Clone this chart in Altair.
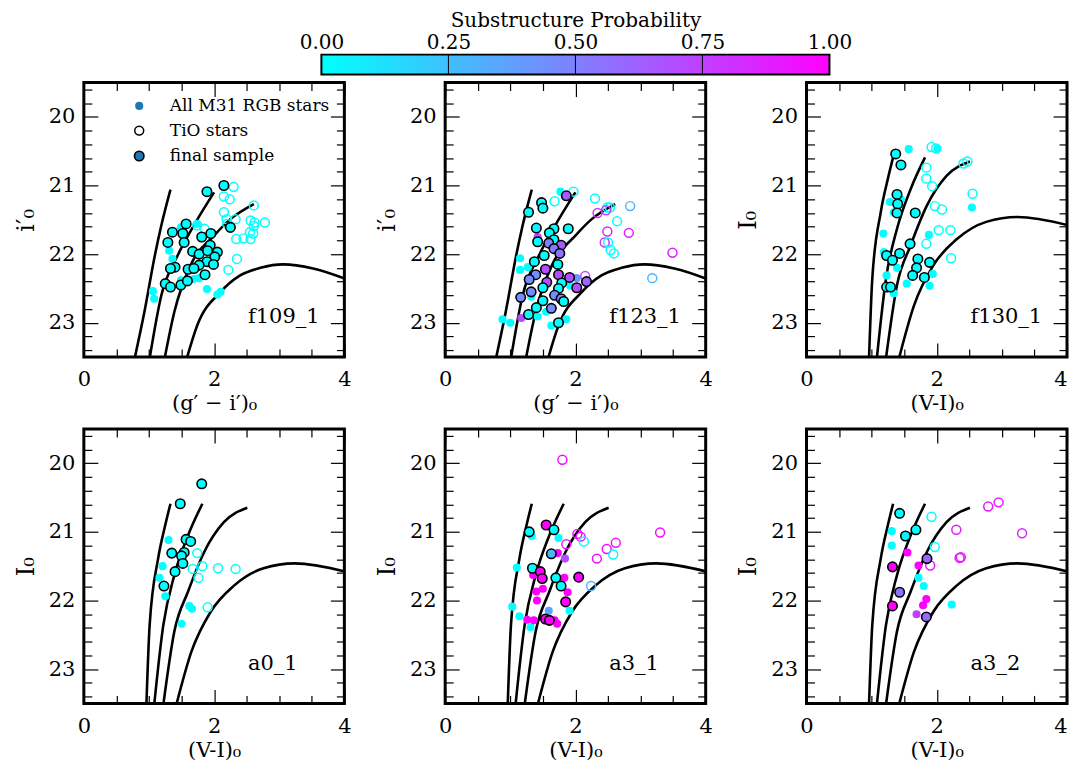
import altair as alt
import pandas as pd

FONT = "DejaVu Serif"

# ---------------- colour bar ----------------
CB_TICKS = [0.0, 0.25, 0.5, 0.75, 1.0]
CB_TITLE = "Substructure Probability"

# ---------------- isochrones ----------------
GI_ISO_X = [
    [0.78, 0.93, 1.09, 1.19, 1.33],
    [1.01, 1.19, 1.44, 1.69, 2.00],
    [1.24, 1.39, 1.64, 2.00, 2.25, 2.61],
    [1.58, 1.74, 2.10, 2.40, 2.71, 3.06, 3.52, 4.07],
]
GI_ISO_Y = [
    [23.52, 22.84, 22.02, 21.58, 21.06],
    [23.52, 22.60, 22.02, 21.58, 21.10],
    [23.52, 22.84, 22.16, 21.73, 21.49, 21.27],
    [23.52, 23.04, 22.55, 22.31, 22.20, 22.15, 22.21, 22.38],
]
VI_ISO_X = [
    [0.96, 1.01, 1.14, 1.25, 1.33],
    [1.08, 1.22, 1.39, 1.60, 1.82],
    [1.22, 1.39, 1.60, 1.85, 2.15, 2.51],
    [1.42, 1.65, 1.95, 2.31, 2.76, 3.24, 4.02],
]
VI_ISO_Y = [
    [23.52, 22.36, 21.39, 20.90, 20.59],
    [23.52, 22.36, 21.63, 21.05, 20.59],
    [23.52, 22.45, 21.87, 21.29, 20.86, 20.65],
    [23.52, 22.75, 22.16, 21.78, 21.53, 21.46, 21.58],
]

# ---------------- f109_1 ----------------
P1_RGB_X = [1.31, 1.36, 1.49, 1.74, 1.06, 1.08, 1.89, 2.05, 2.10, 1.77, 1.49, 1.69]
P1_RGB_Y = [21.95, 22.07, 21.61, 21.56, 22.54, 22.65, 22.51, 22.59, 22.55, 22.35, 22.38, 22.36]
P1_RGB_P = [0, 0, 0, 0, 0, 0, 0, 0, 0, 0, 0, 0]
P1_TIO_X = [2.30, 2.15, 2.24, 2.15, 2.19, 2.33, 2.20, 2.61, 2.56, 2.62, 2.61, 2.78, 2.55, 2.60,
            2.45, 2.34, 2.56, 2.35, 2.22, 1.85, 1.74]
P1_TIO_Y = [21.02, 21.16, 21.20, 21.39, 21.49, 21.49, 21.56, 21.29, 21.51, 21.54, 21.59, 21.54,
            21.68, 21.70, 21.77, 21.78, 21.78, 22.07, 22.23, 21.63, 21.58]
P1_TIO_P = [0] * len(P1_TIO_X)
P1_FIN_X = [1.89, 2.15, 2.25, 1.57, 1.36, 1.52, 1.29, 1.54, 1.81, 1.95, 1.94, 1.67, 1.77, 1.90,
            2.05, 2.01, 1.89, 1.77, 1.40, 1.33, 1.60, 1.69, 1.99, 1.86, 1.25, 1.33, 1.49, 1.59]
P1_FIN_Y = [21.09, 21.00, 21.61, 21.56, 21.68, 21.70, 21.83, 21.83, 21.75, 21.70, 21.87, 21.96,
            22.00, 21.95, 21.97, 22.04, 22.11, 22.16, 22.19, 22.21, 22.22, 22.21, 22.15, 22.30,
            22.43, 22.48, 22.45, 22.39]
P1_FIN_P = [0] * len(P1_FIN_X)

# ---------------- f123_1 ----------------
P2_RGB_X = [1.77, 1.15, 1.15, 0.88, 1.00, 1.17, 1.42, 1.86, 1.63, 1.42, 1.92, 2.02, 1.27, 1.32, 1.55]
P2_RGB_Y = [21.09, 22.06, 22.23, 22.95, 23.00, 22.93, 22.91, 22.95, 23.04, 21.75, 22.46, 22.35,
            22.19, 22.62, 22.84]
P2_RGB_P = [0, 0, 0, 0, 0, 0.7, 0, 0, 0, 0.7, 0, 0.4, 0, 0, 0]
P2_TIO_X = [1.97, 1.68, 2.30, 2.49, 2.53, 2.84, 2.34, 2.47, 2.64, 2.49, 2.82, 2.45, 2.50, 2.54,
            2.59, 3.49, 3.18, 2.15]
P2_TIO_Y = [21.09, 21.23, 21.19, 21.32, 21.32, 21.30, 21.40, 21.36, 21.52, 21.67, 21.69, 21.83,
            21.83, 21.94, 21.99, 21.98, 22.35, 22.32]
P2_TIO_P = [0, 0, 0, 0, 0, 0.3, 0.8, 0.75, 0, 0.85, 0.85, 0.8, 0, 0, 0, 0.85, 0.3, 0.75]
P2_FIN_X = [1.86, 1.28, 1.48, 1.50, 1.40, 1.67, 1.89, 1.60, 1.67, 1.42,
            1.59, 1.78, 1.67, 1.76, 1.52, 1.37, 1.73, 1.54, 1.39, 1.74,
            1.29, 1.56, 1.79, 1.91, 2.02, 2.17, 1.74, 1.50, 1.32, 1.16,
            1.68, 1.78, 1.50, 1.63, 1.40, 1.28, 1.74, 1.82]
P2_FIN_Y = [21.15, 21.39, 21.25, 21.33, 21.62, 21.63, 21.63, 21.69, 21.79, 21.82,
            21.84, 21.87, 21.92, 21.99, 22.02, 22.11, 22.15, 22.22, 22.30, 22.30,
            22.37, 22.41, 22.42, 22.34, 22.49, 22.40, 22.50, 22.49, 22.55, 22.63,
            22.60, 22.65, 22.68, 22.79, 22.78, 22.88, 23.00, 22.69]
P2_FIN_P = [0.65, 0, 0, 0, 0.05, 0, 0, 0, 0, 0,
            0.5, 0.65, 0.5, 0.55, 0, 0, 0, 0.7, 0.45, 0.7,
            0.45, 0.7, 0, 0.7, 0.7, 0.6, 0, 0, 0.45, 0.45,
            0.45, 0.5, 0, 0.45, 0, 0, 0, 0]

# ---------------- f130_1 ----------------
P3_RGB_X = [1.57, 2.01, 1.28, 1.34, 1.45, 1.18, 1.88, 2.54, 1.19, 1.39, 1.23, 1.94, 1.54, 1.89, 1.34]
P3_RGB_Y = [20.47, 20.46, 21.24, 21.39, 21.20, 21.70, 21.72, 21.32, 21.97, 22.20, 22.31, 22.29,
            22.43, 22.46, 22.57]
P3_RGB_P = [0] * len(P3_RGB_X)
P3_TIO_X = [1.92, 1.99, 2.41, 2.47, 1.84, 1.84, 1.93, 2.55, 1.97, 2.08, 2.03, 2.21, 1.84, 2.22]
P3_TIO_Y = [20.44, 20.46, 20.68, 20.65, 20.74, 20.90, 21.01, 21.12, 21.30, 21.35, 21.65, 21.65,
            21.85, 22.06]
P3_TIO_P = [0] * len(P3_TIO_X)
P3_FIN_X = [1.37, 1.45, 1.39, 1.40, 1.39, 1.67, 1.59, 1.23, 1.43, 1.32, 1.71, 1.89, 1.69, 1.63,
            1.81, 1.23, 1.29]
P3_FIN_Y = [20.54, 20.70, 21.13, 21.27, 21.40, 21.40, 21.85, 22.02, 21.99, 22.09, 22.07, 22.12,
            22.20, 22.31, 22.34, 22.48, 22.48]
P3_FIN_P = [0] * len(P3_FIN_X)

# ---------------- a0_1 ----------------
P4_RGB_X = [1.30, 1.21, 1.16, 1.25, 1.62, 1.66, 1.50]
P4_RGB_Y = [21.12, 21.50, 21.67, 21.94, 22.08, 22.12, 22.34]
P4_RGB_P = [0] * len(P4_RGB_X)
P4_TIO_X = [1.74, 1.82, 1.67, 2.06, 2.33, 1.76, 1.90]
P4_TIO_Y = [21.31, 21.50, 21.54, 21.53, 21.54, 21.67, 22.10]
P4_TIO_P = [0] * len(P4_TIO_X)
P4_FIN_X = [1.81, 1.48, 1.57, 1.64, 1.35, 1.54, 1.50, 1.52, 1.40, 1.23]
P4_FIN_Y = [20.30, 20.59, 21.11, 21.14, 21.31, 21.30, 21.35, 21.46, 21.58, 21.79]
P4_FIN_P = [0] * len(P4_FIN_X)

# ---------------- a3_1 ----------------
P5_RGB_X = [1.33, 1.74, 1.10, 1.84, 1.73, 1.35, 1.83, 1.50, 1.40, 1.88, 1.41, 1.03, 1.14, 1.31,
            1.26, 1.36, 1.59, 1.91, 1.72, 1.68]
P5_RGB_Y = [21.06, 21.09, 21.52, 21.39, 21.31, 21.63, 21.67, 21.83, 21.87, 21.88, 22.00, 22.09,
            22.23, 22.39, 22.28, 22.29, 22.15, 22.15, 22.34, 22.29]
P5_RGB_P = [0, 0, 0, 0.7, 1, 1, 1, 1, 1, 1, 1, 0, 0, 0, 1, 1, 0.35, 0, 1, 1]
P5_TIO_X = [1.80, 2.03, 2.08, 2.13, 1.86, 2.33, 2.48, 2.62, 2.58, 2.24, 3.30]
P5_TIO_Y = [19.95, 21.03, 21.07, 21.14, 21.18, 21.39, 21.25, 21.16, 21.33, 21.79, 21.01]
P5_TIO_P = [0.95, 0.95, 0.95, 0, 0.9, 0.95, 0.95, 0.95, 0, 0.3, 0.95]
P5_FIN_X = [1.55, 1.67, 1.29, 1.63, 1.34, 1.46, 1.49, 1.70, 1.78, 2.05, 1.85, 1.54, 1.60]
P5_FIN_Y = [20.90, 20.97, 21.00, 21.32, 21.53, 21.58, 21.68, 21.67, 21.79, 21.66, 22.02, 22.27, 22.29]
P5_FIN_P = [1, 0, 0, 0.3, 0, 1, 1, 0, 0, 1, 1, 1, 1]

# ---------------- a3_2 ----------------
P6_RGB_X = [1.31, 1.31, 1.55, 1.72, 1.72, 1.80, 1.84, 1.79, 1.69, 2.23]
P6_RGB_Y = [20.99, 21.20, 21.30, 21.49, 21.67, 21.79, 21.98, 22.07, 22.20, 22.06]
P6_RGB_P = [0, 0, 1, 1, 0, 0, 1, 1, 0.75, 0]
P6_TIO_X = [1.92, 1.97, 2.30, 1.90, 2.35, 2.37, 2.79, 2.95, 3.31]
P6_TIO_Y = [20.78, 21.22, 20.97, 21.49, 21.38, 21.37, 20.63, 20.57, 21.02]
P6_TIO_P = [0, 0, 0.9, 0.9, 0.9, 0.9, 0.9, 0.9, 0.85]
P6_FIN_X = [1.43, 1.68, 1.52, 1.85, 1.32, 1.43, 1.32, 1.84]
P6_FIN_Y = [20.73, 20.97, 21.06, 21.39, 21.51, 21.88, 22.08, 22.24]
P6_FIN_P = [0, 0, 0.05, 0.6, 1, 0.55, 1, 0.6]

PANEL_NAMES = ["f109_1", "f123_1", "f130_1", "a0_1", "a3_1", "a3_2"]
X_TITLE_GI = "(g\u2032 \u2212 i\u2032)\u2080"
X_TITLE_VI = "(V-I)\u2080"
Y_TITLE_GI = "i\u2032\u2080"
Y_TITLE_VI = "I\u2080"
LABEL_X, LABEL_Y = 2.52, 22.92

LEGEND_LABELS = ["All M31 RGB stars", "TiO stars", "final sample"]
LEGEND_SYM_X, LEGEND_TXT_X = 0.85, 1.32
LEGEND_Y = [19.84, 20.20, 20.57]

X_MAJOR = [0, 2, 4]
X_MINOR = [0.5, 1, 1.5, 2.5, 3, 3.5]
Y_MAJOR = [20, 21, 22, 23]
Y_MINOR = [19.6, 19.8, 20.2, 20.4, 20.6, 20.8, 21.2, 21.4, 21.6, 21.8, 22.2, 22.4, 22.6, 22.8,
           23.2, 23.4]

W, H = 261, 275
GAP = 101
SX = alt.Scale(domain=[0, 4], nice=False, zero=False)
SY = alt.Scale(domain=[19.5, 23.5], reverse=True, nice=False, zero=False)
CSCALE = alt.Scale(domain=[0, 1], range=["#00ffff", "#ff00ff"], interpolate="rgb")

Y_LABEL_SIZE, Y_TITLE_SIZE = 21, 24
SIZE_RGB, SIZE_TIO, SIZE_FIN = 66, 80, 90


def tick_axis(orient, values, size, offset):
    return alt.Axis(orient=orient, values=values, labels=False, domain=False, grid=False,
                    ticks=True, tickSize=size, tickWidth=1.2, tickColor="black",
                    offset=offset, title=None, zindex=1)


def pts(xs, ys, ps):
    return pd.DataFrame({"x": xs, "y": ys, "p": ps})


def panel(name, iso_x, iso_y, rgb, tio, fin, xtitle, ytitle, legend=False, last_col=False):
    iso_rows = []
    for ci, (cx, cy) in enumerate(zip(iso_x, iso_y)):
        for a, b in zip(cx, cy):
            iso_rows.append({"curve": ci, "x": a, "y": b})
    iso_df = pd.DataFrame(iso_rows)

    xl_kw = {}
    if last_col:
        xl_kw["labelAlign"] = {"condition": {"test": "datum.value >= 4", "value": "right"},
                               "value": "center"}
    x_lab = alt.Axis(orient="bottom", values=X_MAJOR, format="d", ticks=False, tickSize=0,
                     domain=False, grid=False, labelFlush=False, labelPadding=12,
                     labelFontSize=21, title=xtitle, titleFontSize=21, titlePadding=3,
                     titleFontWeight="normal", **xl_kw)
    y_lab = alt.Axis(orient="left", values=Y_MAJOR, format="d", ticks=False, tickSize=0,
                     domain=False, grid=False, labelPadding=9, labelFontSize=Y_LABEL_SIZE,
                     title=ytitle, titleFontSize=Y_TITLE_SIZE, titlePadding=10,
                     titleFontWeight="normal")

    def enc(ax_x, ax_y):
        return dict(x=alt.X("x:Q", scale=SX, axis=ax_x), y=alt.Y("y:Q", scale=SY, axis=ax_y))

    lines = alt.Chart(iso_df).mark_line(color="black", strokeWidth=2.6, clip=True,
                                        interpolate="monotone").encode(
        detail="curve:N", order="x:Q", **enc(x_lab, y_lab))

    col = alt.Color("p:Q", scale=CSCALE, legend=None)
    l_rgb = alt.Chart(pts(*rgb)).mark_circle(size=SIZE_RGB, opacity=1).encode(
        color=col, **enc(tick_axis("top", X_MAJOR, 14, -H), tick_axis("right", Y_MAJOR, 14, -W)))
    l_tio = alt.Chart(pts(*tio)).mark_point(shape="circle", filled=False, size=SIZE_TIO,
                                            strokeWidth=1.5, opacity=1).encode(
        color=col, **enc(tick_axis("top", X_MINOR, 8, -H), tick_axis("right", Y_MINOR, 8, -W)))
    l_fin = alt.Chart(pts(*fin)).mark_circle(size=SIZE_FIN, opacity=1, stroke="black",
                                             strokeWidth=1.6).encode(
        color=col, **enc(tick_axis("bottom", X_MAJOR, 14, -H), tick_axis("left", Y_MAJOR, 14, -W)))
    lab = alt.Chart(pd.DataFrame({"t": [name], "x": [LABEL_X], "y": [LABEL_Y]})).mark_text(
        align="left", baseline="middle", fontSize=21, font=FONT, color="black").encode(
        text="t:N", **enc(tick_axis("bottom", X_MINOR, 8, -H), tick_axis("left", Y_MINOR, 8, -W)))

    layers = [lines, l_rgb, l_tio, l_fin, lab]
    if legend:
        none = dict(x=alt.X("x:Q", scale=SX, axis=None), y=alt.Y("y:Q", scale=SY, axis=None))
        d0 = pd.DataFrame({"x": [LEGEND_SYM_X], "y": [LEGEND_Y[0]]})
        d1 = pd.DataFrame({"x": [LEGEND_SYM_X], "y": [LEGEND_Y[1]]})
        d2 = pd.DataFrame({"x": [LEGEND_SYM_X], "y": [LEGEND_Y[2]]})
        layers.append(alt.Chart(d0).mark_circle(size=SIZE_RGB, color="#1f77b4", opacity=1).encode(**none))
        layers.append(alt.Chart(d1).mark_point(shape="circle", filled=False, size=SIZE_TIO,
                                               strokeWidth=1.5, color="black", opacity=1).encode(**none))
        layers.append(alt.Chart(d2).mark_circle(size=SIZE_FIN, color="#1f77b4", stroke="black",
                                                strokeWidth=1.6, opacity=1).encode(**none))
        tdf = pd.DataFrame({"t": LEGEND_LABELS, "x": [LEGEND_TXT_X] * 3, "y": LEGEND_Y})
        layers.append(alt.Chart(tdf).mark_text(align="left", baseline="middle", fontSize=17,
                                               font=FONT, color="black").encode(text="t:N", **none))

    return alt.layer(*layers).resolve_axis(x="independent", y="independent").properties(
        width=W, height=H)


p1 = panel(PANEL_NAMES[0], GI_ISO_X, GI_ISO_Y, (P1_RGB_X, P1_RGB_Y, P1_RGB_P),
           (P1_TIO_X, P1_TIO_Y, P1_TIO_P), (P1_FIN_X, P1_FIN_Y, P1_FIN_P),
           X_TITLE_GI, Y_TITLE_GI, legend=True)
p2 = panel(PANEL_NAMES[1], GI_ISO_X, GI_ISO_Y, (P2_RGB_X, P2_RGB_Y, P2_RGB_P),
           (P2_TIO_X, P2_TIO_Y, P2_TIO_P), (P2_FIN_X, P2_FIN_Y, P2_FIN_P),
           X_TITLE_GI, Y_TITLE_GI)
p3 = panel(PANEL_NAMES[2], VI_ISO_X, VI_ISO_Y, (P3_RGB_X, P3_RGB_Y, P3_RGB_P),
           (P3_TIO_X, P3_TIO_Y, P3_TIO_P), (P3_FIN_X, P3_FIN_Y, P3_FIN_P),
           X_TITLE_VI, Y_TITLE_VI, last_col=True)
p4 = panel(PANEL_NAMES[3], VI_ISO_X, VI_ISO_Y, (P4_RGB_X, P4_RGB_Y, P4_RGB_P),
           (P4_TIO_X, P4_TIO_Y, P4_TIO_P), (P4_FIN_X, P4_FIN_Y, P4_FIN_P),
           X_TITLE_VI, Y_TITLE_VI)
p5 = panel(PANEL_NAMES[4], VI_ISO_X, VI_ISO_Y, (P5_RGB_X, P5_RGB_Y, P5_RGB_P),
           (P5_TIO_X, P5_TIO_Y, P5_TIO_P), (P5_FIN_X, P5_FIN_Y, P5_FIN_P),
           X_TITLE_VI, Y_TITLE_VI)
p6 = panel(PANEL_NAMES[5], VI_ISO_X, VI_ISO_Y, (P6_RGB_X, P6_RGB_Y, P6_RGB_P),
           (P6_TIO_X, P6_TIO_Y, P6_TIO_P), (P6_FIN_X, P6_FIN_Y, P6_FIN_P),
           X_TITLE_VI, Y_TITLE_VI, last_col=True)

# colour bar: its x scale is laid so that 0..1 sits above the middle of the grid
GRID_W = 3 * W + 2 * GAP
CB_LEFT, CB_LEN = 238, 509
cb_scale = alt.Scale(domain=[-CB_LEFT / CB_LEN, (GRID_W - CB_LEFT) / CB_LEN], nice=False, zero=False)
cb_axis = alt.Axis(orient="top", values=CB_TICKS, format=".2f", ticks=False, tickSize=0,
                   domain=False, grid=False, labelFlush=False, labelPadding=2,
                   labelFontSize=20, title=CB_TITLE, titleFontSize=20,
                   titleFontWeight="normal", titlePadding=2)
grad = alt.LinearGradient(gradient="linear",
                          stops=[alt.GradientStop(color="#00ffff", offset=0),
                                 alt.GradientStop(color="#ff00ff", offset=1)],
                          x1=0, x2=1, y1=0, y2=0)
cb_bar = alt.Chart(pd.DataFrame({"lo": [CB_TICKS[0]], "hi": [CB_TICKS[-1]]})).mark_rect(
    fill=grad, stroke="black", strokeWidth=2).encode(
    x=alt.X("lo:Q", scale=cb_scale, axis=cb_axis), x2="hi:Q")
cb_lines = alt.Chart(pd.DataFrame({"lo": CB_TICKS[1:-1]})).mark_rule(
    color="black", strokeWidth=1).encode(x=alt.X("lo:Q", scale=cb_scale, axis=cb_axis))
# invisible left axis, same size as the panels' y axis, so the bar lines up with the grid
cb_pad = alt.Chart(pd.DataFrame({"lo": [0.5], "v": [0.5]})).mark_point(opacity=0).encode(
    x=alt.X("lo:Q", scale=cb_scale, axis=cb_axis),
    y=alt.Y("v:Q", scale=alt.Scale(domain=[0, 1]),
            axis=alt.Axis(orient="left", values=[0.5], labelExpr="'20'", ticks=False, tickSize=0,
                          domain=False, grid=False, labelPadding=9, labelFontSize=Y_LABEL_SIZE,
                          labelColor="transparent", title=Y_TITLE_GI, titleFontSize=Y_TITLE_SIZE,
                          titlePadding=10, titleColor="transparent", titleFontWeight="normal")))
cb = alt.layer(cb_bar, cb_lines, cb_pad).properties(
    width=GRID_W, height=20, view=alt.ViewBackground(stroke="transparent"))

row1 = alt.hconcat(p1, p2, p3, spacing=GAP, bounds="flush")
row2 = alt.hconcat(p4, p5, p6, spacing=GAP, bounds="flush")
grid = alt.vconcat(row1, row2, spacing=10)

chart = alt.vconcat(cb, grid, spacing=2).properties(
    padding={"left": 4, "top": 0, "right": 0, "bottom": 0}
).configure(font=FONT).configure_view(stroke="black", strokeWidth=3).configure_axis(
    labelFont=FONT, titleFont=FONT, labelColor="black", titleColor="black")

chart.save("out.html", embed_options={"renderer": "svg", "actions": False})
